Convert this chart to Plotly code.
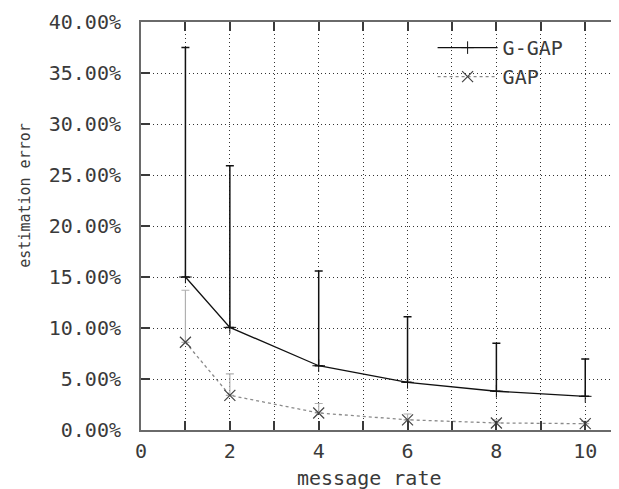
import plotly.graph_objects as go

message_rate = [1, 2, 4, 6, 8, 10]
ggap_err = [0.150, 0.1006, 0.063, 0.0467, 0.038, 0.033]
ggap_upper = [0.375, 0.259, 0.156, 0.111, 0.085, 0.0695]
gap_err = [0.086, 0.034, 0.0167, 0.010, 0.0069, 0.0062]
gap_upper = [0.137, 0.055, 0.026, 0.0157, 0.0100, 0.0085]

x_tickvals = list(range(0, 12))
x_ticktext = ["0", "", "2", "", "4", "", "6", "", "8", "", "10", ""]
y_tickvals = [0.0, 0.05, 0.10, 0.15, 0.20, 0.25, 0.30, 0.35, 0.40]

FONT = dict(family="DejaVu Sans Mono", size=20, color="#3a3a3a")
FONT_V = dict(family="DejaVu Sans Mono", size=15, color="#3a3a3a")

fig = go.Figure()
fig.add_trace(go.Scatter(
    x=message_rate, y=ggap_err, name="G-GAP", mode="lines+markers",
    line=dict(color="#111111", width=1.3),
    marker=dict(symbol="cross-thin", size=9, line=dict(color="#111111", width=1)),
    error_y=dict(type="data", symmetric=False,
                 array=[u - v for u, v in zip(ggap_upper, ggap_err)],
                 arrayminus=[0] * len(ggap_err),
                 color="#111111", thickness=1.5, width=4),
))
fig.add_trace(go.Scatter(
    x=message_rate, y=gap_err, name="GAP", mode="lines+markers",
    line=dict(color="#8a8a8a", width=1.3, dash="dot"),
    marker=dict(symbol="x-thin", size=11, color="#444444", line=dict(color="#444444", width=1.2)),
    error_y=dict(type="data", symmetric=False,
                 array=[u - v for u, v in zip(gap_upper, gap_err)],
                 arrayminus=[0] * len(gap_err),
                 color="#b0b0b0", thickness=1.2, width=4),
))

axis_common = dict(
    showline=True, linecolor="#6a6a6a", linewidth=2, mirror="ticks",
    ticks="inside", ticklen=9, tickcolor="#3a3a3a", tickwidth=1.5,
    showgrid=True, gridcolor="#333333", griddash="1px,3px", gridwidth=1,
    zeroline=False, tickfont=FONT, automargin=False,
)

fig.update_xaxes(range=[0, 10.94], tickvals=x_tickvals, ticktext=x_ticktext,
                 ticklabelstandoff=2, **axis_common)
fig.update_yaxes(range=[0, 0.40], tickvals=y_tickvals, tickformat=".2%",
                 ticklabelstandoff=14, **axis_common)

fig.add_annotation(text="message rate", xref="paper", yref="paper",
                   x=0.471, y=-0.118, showarrow=False, font=FONT,
                   xanchor="center", yanchor="middle")
fig.add_annotation(text="estimation error", xref="paper", yref="paper",
                   x=-0.238, y=0.575, showarrow=False, font=FONT_V, textangle=-90,
                   xanchor="center", yanchor="middle")

fig.update_layout(
    width=619, height=489,
    margin=dict(l=133, r=0, t=14, b=67, autoexpand=False),
    plot_bgcolor="white", paper_bgcolor="white",
    font=FONT,
    legend=dict(x=0.60, y=0.985, xanchor="left", yanchor="top",
                bgcolor="rgba(255,255,255,0)", font=FONT,
                itemwidth=60, tracegroupgap=0),
    showlegend=True,
)

fig.write_html("out.html")
